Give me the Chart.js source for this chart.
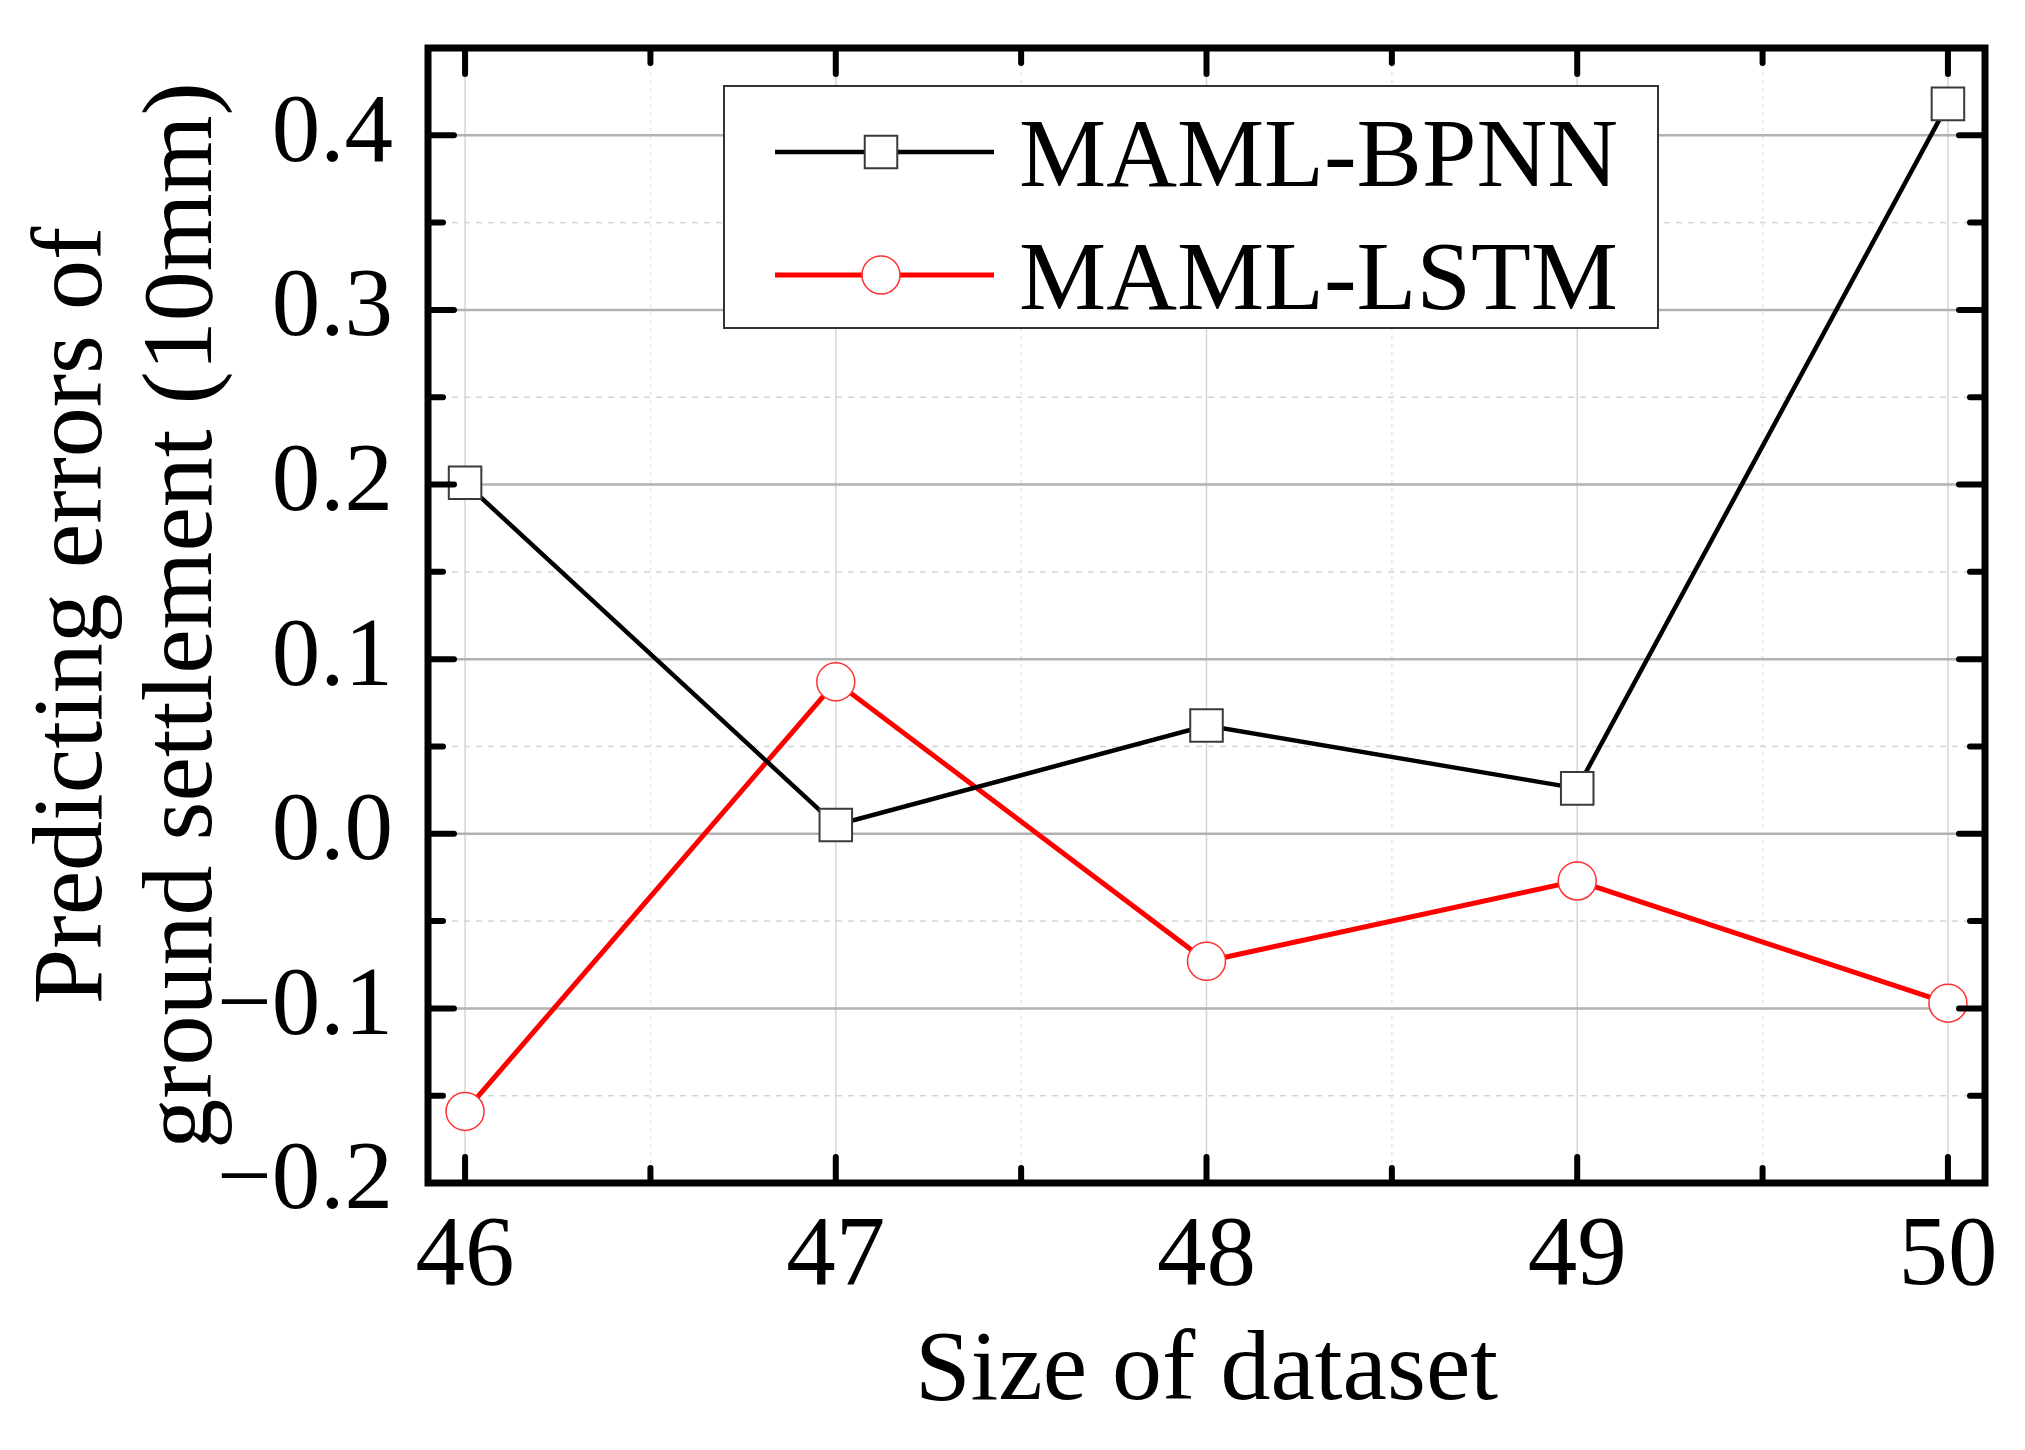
<!DOCTYPE html>
<html>
<head>
<meta charset="utf-8">
<script src="https://cdn.jsdelivr.net/npm/chart.js@4.4.1/dist/chart.umd.min.js"></script>
<style>
	html, body { margin: 0; padding: 0; background: #fff; }
	#wrap { width: 2025px; height: 1450px; position: relative; }
</style>
</head>
<body>
<div id="wrap"><canvas id="lineChart"></canvas></div>
<script>
const sizes = [46, 47, 48, 49, 50];
const bpnnErrors = [0.201, 0.005, 0.062, 0.026, 0.418];
const lstmErrors = [-0.159, 0.087, -0.073, -0.027, -0.097];
const seriesNames = ["MAML-BPNN", "MAML-LSTM"];

const serif = "'Liberation Serif', 'Times New Roman', serif";

function isMajorY(v) { return Math.abs(Math.round(v * 100)) % 10 === 0; }
function isMajorX(v) { return Math.abs(v - Math.round(v)) < 1e-6; }

// grid, frame with inward ticks, and boxed legend like the original figure
const originStyle = {
	id: "originStyle",
	beforeDatasetsDraw(chart) {
		const { ctx, chartArea: a, scales: { x, y } } = chart;
		ctx.save();
		x.ticks.forEach(t => {
			const px = x.getPixelForValue(t.value);
			ctx.beginPath();
			if (isMajorX(t.value)) {
				ctx.strokeStyle = "#d6d6d6"; ctx.lineWidth = 1.5; ctx.setLineDash([]);
			} else {
				ctx.strokeStyle = "#e2e2e2"; ctx.lineWidth = 1.5; ctx.setLineDash([3, 5]);
			}
			ctx.moveTo(px, a.top); ctx.lineTo(px, a.bottom); ctx.stroke();
		});
		y.ticks.forEach(t => {
			const py = y.getPixelForValue(t.value);
			ctx.beginPath();
			if (isMajorY(t.value)) {
				ctx.strokeStyle = "#b2b2b2"; ctx.lineWidth = 2.5; ctx.setLineDash([]);
			} else {
				ctx.strokeStyle = "#d4d4d4"; ctx.lineWidth = 1.5; ctx.setLineDash([6, 6]);
			}
			ctx.moveTo(a.left, py); ctx.lineTo(a.right, py); ctx.stroke();
		});
		ctx.restore();
	},
	afterDatasetsDraw(chart) {
		const { ctx, chartArea: a, scales: { x, y } } = chart;
		ctx.save();
		ctx.setLineDash([]);
		ctx.strokeStyle = "#000";
		ctx.lineCap = "round";
		ctx.lineWidth = 6;
		x.ticks.forEach(t => {
			const px = x.getPixelForValue(t.value);
			const len = isMajorX(t.value) ? 26 : 15;
			ctx.beginPath();
			ctx.moveTo(px, a.bottom); ctx.lineTo(px, a.bottom - len);
			ctx.moveTo(px, a.top); ctx.lineTo(px, a.top + len);
			ctx.stroke();
		});
		y.ticks.forEach(t => {
			const py = y.getPixelForValue(t.value);
			if (py < a.top + 2 || py > a.bottom - 2) return;
			const len = isMajorY(t.value) ? 26 : 15;
			ctx.beginPath();
			ctx.moveTo(a.left, py); ctx.lineTo(a.left + len, py);
			ctx.moveTo(a.right, py); ctx.lineTo(a.right - len, py);
			ctx.stroke();
		});
		ctx.lineCap = "butt";
		ctx.lineWidth = 7;
		ctx.strokeRect(a.left, a.top, a.right - a.left, a.bottom - a.top);

		// legend box
		const bx = 724, by = 86, bw = 934, bh = 242;
		ctx.fillStyle = "#fff";
		ctx.fillRect(bx, by, bw, bh);
		ctx.lineWidth = 2;
		ctx.strokeStyle = "#333";
		ctx.strokeRect(bx, by, bw, bh);
		const rows = [152, 275];
		chart.data.datasets.forEach((ds, i) => {
			const ry = rows[i];
			ctx.beginPath();
			ctx.strokeStyle = ds.borderColor;
			ctx.lineWidth = ds.borderWidth;
			ctx.moveTo(775, ry); ctx.lineTo(994, ry); ctx.stroke();
			ctx.fillStyle = "#fff";
			ctx.strokeStyle = ds.pointBorderColor;
			ctx.lineWidth = ds.pointBorderWidth;
			Chart.helpers.drawPoint(ctx, {
				pointStyle: ds.pointStyle, radius: ds.pointRadius, rotation: 0, borderWidth: ds.pointBorderWidth
			}, 881, ry);
			ctx.fillStyle = "#000";
			ctx.font = "98px " + serif;
			ctx.textAlign = "left";
			ctx.textBaseline = "alphabetic";
			ctx.fillText(seriesNames[i], 1019, ry + 34);
		});
		ctx.restore();
	}
};

const ctx = document.getElementById("lineChart").getContext("2d");
new Chart(ctx, {
	type: "line",
	data: {
		datasets: [
			{
				label: seriesNames[0],
				data: sizes.map((s, i) => ({ x: s, y: bpnnErrors[i] })),
				borderColor: "#000",
				borderWidth: 4.5,
				pointStyle: "rect",
				pointRadius: 23,
				pointHoverRadius: 23,
				pointBackgroundColor: "#fff",
				pointBorderColor: "#3a3a3a",
				pointBorderWidth: 2,
				tension: 0
			},
			{
				label: seriesNames[1],
				data: sizes.map((s, i) => ({ x: s, y: lstmErrors[i] })),
				borderColor: "#ff0000",
				borderWidth: 5,
				pointStyle: "circle",
				pointRadius: 19,
				pointHoverRadius: 19,
				pointBackgroundColor: "#fff",
				pointBorderColor: "#ff3030",
				pointBorderWidth: 1.5,
				tension: 0
			}
		]
	},
	options: {
		responsive: true,
		maintainAspectRatio: false,
		animation: false,
		clip: false,
		layout: { padding: { left: 0, right: 40, top: 48, bottom: 0 } },
		plugins: {
			legend: { display: false },
			tooltip: { enabled: false }
		},
		scales: {
			x: {
				type: "linear",
				min: 45.9,
				max: 50.1,
				grid: { display: false, drawTicks: false },
				border: { display: false },
				ticks: {
					stepSize: 0.5,
					includeBounds: false,
					autoSkip: false,
					maxRotation: 0,
					padding: 16,
					color: "#000",
					font: { family: serif, size: 99 },
					callback: v => isMajorX(v) ? String(Math.round(v)) : ""
				},
				title: {
					display: true,
					text: "Size of dataset",
					color: "#000",
					font: { family: serif, size: 100, lineHeight: 1.1 },
					padding: { top: 0, bottom: 22 }
				},
				afterFit: s => {
					s.height = 1450 - 1183;
					s.paddingLeft = 0;
					s.paddingRight = 0;
				}
			},
			y: {
				min: -0.2,
				max: 0.45,
				grid: { display: false, drawTicks: false },
				border: { display: false },
				ticks: {
					stepSize: 0.05,
					includeBounds: false,
					maxTicksLimit: 100,
					autoSkip: false,
					padding: 35,
					color: "#000",
					font: { family: serif, size: 97 },
					callback: v => isMajorY(v) ? v.toFixed(1).replace("-", "\u2212") : ""
				},
				afterBuildTicks: s => { s.ticks = s.ticks.filter(t => t.value < 0.449); },
				title: {
					display: true,
					text: ["Predicting errors of", "ground settlement (10mm)"],
					color: "#000",
					font: { family: serif, size: 100, lineHeight: 1.1 },
					padding: { top: 20, bottom: 0 }
				},
				afterFit: s => {
					s.width = 428;
					s.paddingTop = 0;
					s.paddingBottom = 0;
				}
			}
		}
	},
	plugins: [originStyle]
});
</script>
</body>
</html>
